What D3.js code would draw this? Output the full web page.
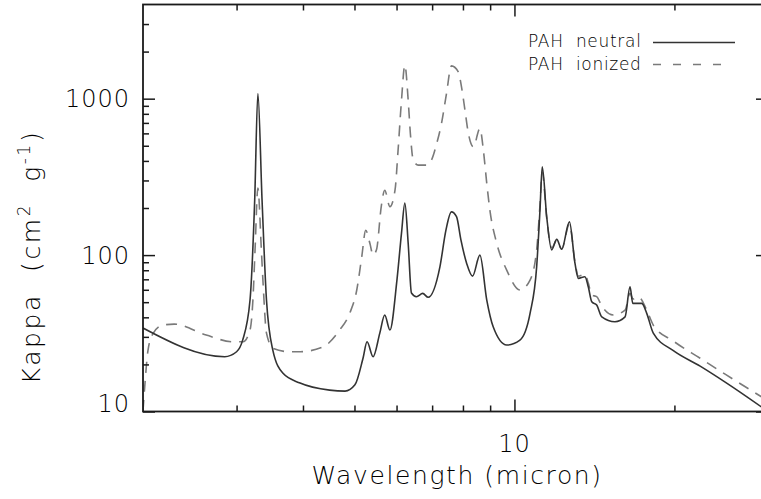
<!DOCTYPE html>
<html>
<head>
<meta charset="utf-8">
<script src="https://cdn.jsdelivr.net/npm/d3@7"></script>
<style>
  html, body { margin: 0; padding: 0; background: #fff; overflow: hidden; }
  svg { display: block; }
  text { font-family: "DejaVu Sans ExtraLight", "DejaVu Sans", sans-serif; font-weight: 200; fill: #000; }
</style>
</head>
<body>
<svg id="chart" width="761" height="499"></svg>
<script>
// PAH mass absorption coefficient (cm^2 g^-1) versus wavelength (micron)
const neutralWavelength = [2.00, 2.85, 3.00, 3.08, 3.18, 3.245, 3.29, 3.35, 3.415, 3.51, 3.665, 3.95, 4.49, 4.80, 5.01,
  5.19, 5.28, 5.42, 5.58, 5.70, 5.83, 6.01, 6.13, 6.22, 6.31, 6.40, 6.54, 6.72, 6.88, 7.24, 7.43, 7.61, 7.78, 7.93,
  8.13, 8.34, 8.61, 8.87, 9.12, 9.67, 10.24, 10.70, 11.01, 11.17, 11.28, 11.50, 11.75, 12.01, 12.27, 12.69, 13.00,
  13.19, 13.57, 13.77, 13.98, 14.28, 14.60, 15.46, 16.15, 16.50, 16.70, 17.36, 17.74, 18.25, 19.91, 22.36, 25.0, 30.0];
const neutralKappa = [34.2, 22.4, 24.1, 28.6, 51.6, 225, 1080, 225, 51.6, 24.7, 17.6, 15.2, 13.7, 13.5, 14.8,
  22.0, 27.9, 22.4, 31.7, 41.4, 33.2, 69.2, 138, 215, 119, 57.2, 54.2, 56.9, 53.7, 84.1, 144, 189, 176, 125,
  88.5, 73.4, 100, 51.6, 34.8, 26.6, 28.6, 42.4, 84.1, 194, 367, 176, 108, 126, 109, 163, 88.5,
  71.0, 72.7, 62.7, 50.3, 47.9, 40.3, 37.5, 40.3, 62.7, 49.1, 49.1, 42.4, 31.7, 24.5, 19.5, 15.3, 10.0];

const ionizedWavelength = [2.00, 2.015, 2.044, 2.09, 2.18, 2.29, 2.63, 2.955, 3.085, 3.18, 3.22, 3.25, 3.29, 3.34,
  3.365, 3.415, 3.515, 3.78, 3.95, 4.365, 4.69, 4.90, 5.05, 5.16, 5.25, 5.345, 5.42, 5.50, 5.62, 5.70, 5.83, 5.96,
  6.04, 6.13, 6.22, 6.31, 6.37, 6.45, 6.59, 6.83, 6.98, 7.14, 7.29, 7.45, 7.61, 7.84, 7.95, 8.07, 8.18, 8.37, 8.61,
  8.74, 8.87, 8.99, 9.26, 9.67, 10.24, 10.70, 11.01, 11.17, 11.28, 11.50, 11.75, 12.01, 12.27, 12.69, 13.00, 13.19,
  13.57, 13.77, 13.98, 14.28, 14.60, 15.35, 16.15, 16.50, 16.72, 17.10, 17.74, 18.25, 19.91, 22.36, 25.0, 30.0];
const ionizedKappa = [10.1, 14.4, 24.7, 31.6, 35.7, 36.2, 30.8, 27.9, 27.9, 33.2, 51.6, 108, 268, 108,
  66, 31.7, 25.3, 24.1, 24.1, 25.9, 33.2, 42.6, 59.8, 97.5, 144, 119, 100, 108, 209, 260, 204, 260,
  469, 978, 1637, 978, 599, 405, 376, 376, 405, 517, 694, 1080, 1620, 1484, 1190, 845, 614, 492, 645,
  469, 287, 194, 119, 80.2, 59.8, 69.2, 108, 209, 339, 172, 111, 125, 109, 158, 90.2, 73.4,
  75.6, 66.2, 55.5, 54.2, 47.2, 41.4, 44.5, 56.9, 52.4, 54.2, 44.5, 35.7, 28.2, 21.9, 17.2, 11.7];

const seriesNames = ["PAH neutral", "PAH ionized"];

const xDomain = [2, 30];
const yDomain = [10, 4000];
const xMajorTicks = [10];
const xMinorTicks = [3, 4, 5, 6, 7, 8, 9, 20];
const yMajorTicks = [10, 100, 1000];
const yMinorTicks = [20, 30, 40, 50, 60, 70, 80, 90, 200, 300, 400, 500, 600, 700, 800, 900, 2000, 3000];

const xTitle = "Wavelength (micron)";

// plot frame
const frame = { left: 143, right: 768, top: 4.5, bottom: 411.5 };

const svg = d3.select("#chart");
const x = d3.scaleLog().domain(xDomain).range([frame.left, frame.right]);
const y = d3.scaleLog().domain(yDomain).range([frame.bottom, frame.top]);

svg.append("defs").append("clipPath").attr("id", "plot-clip")
  .append("rect").attr("x", frame.left).attr("y", frame.top)
  .attr("width", frame.right - frame.left).attr("height", frame.bottom - frame.top);

const toPoints = (ws, ks) => ws.map((w, i) => [w, ks[i]]);
const line = d3.line().x(d => x(d[0])).y(d => y(d[1])).curve(d3.curveMonotoneX);

const curves = svg.append("g").attr("clip-path", "url(#plot-clip)");
curves.append("path")
  .datum(toPoints(ionizedWavelength, ionizedKappa))
  .attr("d", line).attr("fill", "none")
  .attr("stroke", "#7a7a7a").attr("stroke-width", 1.6)
  .attr("stroke-dasharray", "11,8");
curves.append("path")
  .datum(toPoints(neutralWavelength, neutralKappa))
  .attr("d", line).attr("fill", "none")
  .attr("stroke", "#333").attr("stroke-width", 1.6);

// axes: ticks point into the plot on all four sides
const axisColor = "#1a1a1a";
function styleAxis(g) {
  g.select(".domain").remove();
  g.selectAll(".tick line").attr("stroke", axisColor).attr("stroke-width", 1.5);
  g.selectAll(".tick text").remove();
}
const majorLen = 12, minorLen = 6;
[[d3.axisBottom, frame.bottom], [d3.axisTop, frame.top]].forEach(([ax, pos]) => {
  svg.append("g").attr("transform", `translate(0,${pos})`)
    .call(ax(x).tickValues(xMinorTicks).tickSize(-minorLen)).call(styleAxis);
  svg.append("g").attr("transform", `translate(0,${pos})`)
    .call(ax(x).tickValues(xMajorTicks).tickSize(-majorLen)).call(styleAxis);
});
[[d3.axisLeft, frame.left], [d3.axisRight, frame.right]].forEach(([ax, pos]) => {
  svg.append("g").attr("transform", `translate(${pos},0)`)
    .call(ax(y).tickValues(yMinorTicks).tickSize(-minorLen)).call(styleAxis);
  svg.append("g").attr("transform", `translate(${pos},0)`)
    .call(ax(y).tickValues(yMajorTicks).tickSize(-majorLen)).call(styleAxis);
});

svg.append("rect").attr("x", frame.left).attr("y", frame.top)
  .attr("width", frame.right - frame.left).attr("height", frame.bottom - frame.top)
  .attr("fill", "none").attr("stroke", axisColor).attr("stroke-width", 1.8);

// tick labels
const labelSize = 24;
const halfCap = labelSize * 0.365;
svg.append("g").selectAll("text").data(yMajorTicks).join("text")
  .attr("x", 130)
  .attr("y", d => Math.min(y(d), frame.bottom - halfCap) + halfCap)
  .attr("text-anchor", "end")
  .attr("font-size", labelSize)
  .attr("letter-spacing", 1)
  .text(d => d3.format("d")(d));

svg.append("g").selectAll("text").data(xMajorTicks).join("text")
  .attr("x", d => x(d))
  .attr("y", 452)
  .attr("text-anchor", "middle")
  .attr("font-size", labelSize)
  .attr("letter-spacing", 1)
  .text(d => d3.format("d")(d));

// axis titles
svg.append("text")
  .attr("x", 457).attr("y", 484)
  .attr("text-anchor", "middle")
  .attr("font-size", 25)
  .attr("letter-spacing", 1.6)
  .text(xTitle);

const yTitle = svg.append("text")
  .attr("transform", "translate(40,257) rotate(-90)")
  .attr("text-anchor", "middle")
  .attr("font-size", 25)
  .attr("letter-spacing", 2.6)
  .attr("xml:space", "preserve");
yTitle.append("tspan").text("Kappa  (cm");
yTitle.append("tspan").attr("font-size", 17).attr("dy", -10).text("2");
yTitle.append("tspan").attr("dy", 10).text("  g");
yTitle.append("tspan").attr("font-size", 17).attr("dy", -10).text("-1");
yTitle.append("tspan").attr("dy", 10).text(")");

// legend
const legend = svg.append("g");
const legendRows = [
  { name: seriesNames[0], y: 47, lineY: 42.5, stroke: "#333", dash: null },
  { name: seriesNames[1], y: 70, lineY: 64.5, stroke: "#7a7a7a", dash: "8,12" }
];
legendRows.forEach(r => {
  legend.append("text").attr("x", 528).attr("y", r.y)
    .attr("font-size", 17).attr("letter-spacing", 0.7)
    .attr("xml:space", "preserve").text(r.name.replace(" ", "  "));
  legend.append("line").attr("x1", 653).attr("x2", r.dash ? 724 : 735)
    .attr("y1", r.lineY).attr("y2", r.lineY)
    .attr("stroke", r.stroke).attr("stroke-width", 1.6)
    .attr("stroke-dasharray", r.dash);
});
</script>
</body>
</html>
